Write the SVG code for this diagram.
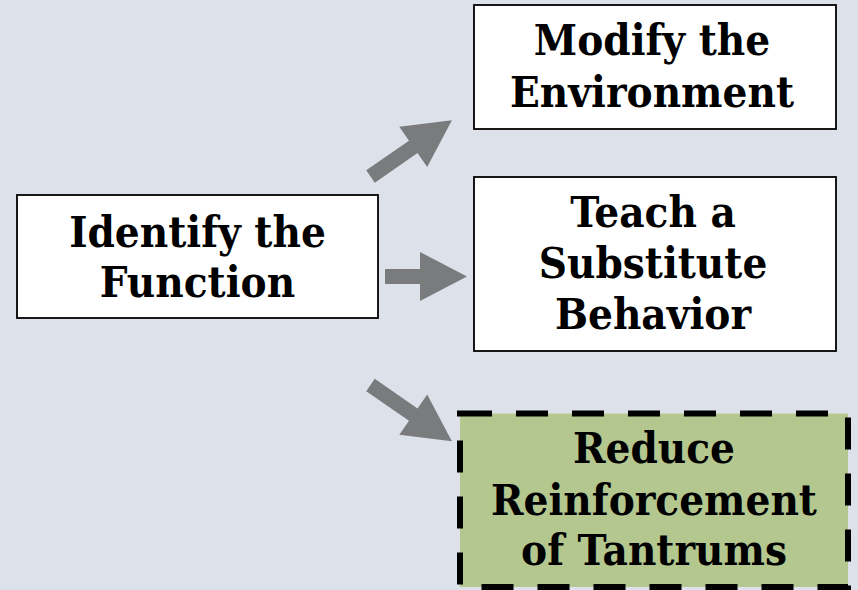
<svg xmlns="http://www.w3.org/2000/svg" width="858" height="590" viewBox="0 0 858 590">
<style>
.box{fill:#ffffff;stroke:#000000;stroke-width:1.8}
.dash{fill:#b3c78f;stroke:#000000;stroke-width:6;stroke-dasharray:32 24}
.lbl{font-family:"DejaVu Serif Condensed","DejaVu Serif","Liberation Serif",serif;font-stretch:condensed;font-weight:bold;font-size:43.5px;fill:#000000;text-anchor:middle}
.arr{fill:#7a7b7d}
</style>
<defs>
<polygon id="arrLong" points="0,-7.5 52,-7.5 52,-24.5 99,0 52,24.5 52,7.5 0,7.5"/>
<polygon id="arrShort" points="0,-7.5 35,-7.5 35,-24.5 82,0 35,24.5 35,7.5 0,7.5"/>
</defs>
<rect width="858" height="590" fill="#dce1ea"/>
<g id="connectors">
<use href="#arrLong" class="arr" transform="translate(370.5,176.5) rotate(-34.7)"/>
<use href="#arrShort" class="arr" transform="translate(385,276.5)"/>
<use href="#arrLong" class="arr" transform="translate(370.5,385) rotate(34.7)"/>
</g>
<g id="identify">
<rect class="box" x="17" y="195" width="361" height="123"/>
<text class="lbl" x="197.5" y="246.5">Identify the</text>
<text class="lbl" x="197.5" y="296.5">Function</text>
</g>
<g id="modify">
<rect class="box" x="474" y="5" width="362" height="124"/>
<text class="lbl" x="652" y="55">Modify the</text>
<text class="lbl" x="652" y="107">Environment</text>
</g>
<g id="teach">
<rect class="box" x="474" y="177" width="362" height="174"/>
<text class="lbl" x="653" y="227">Teach a</text>
<text class="lbl" x="653" y="278">Substitute</text>
<text class="lbl" x="653" y="329">Behavior</text>
</g>
<g id="reduce">
<rect class="dash" x="460" y="413.5" width="388" height="173.5"/>
<text class="lbl" x="654" y="463">Reduce</text>
<text class="lbl" x="654" y="515">Reinforcement</text>
<text class="lbl" x="654" y="565">of Tantrums</text>
</g>
</svg>
